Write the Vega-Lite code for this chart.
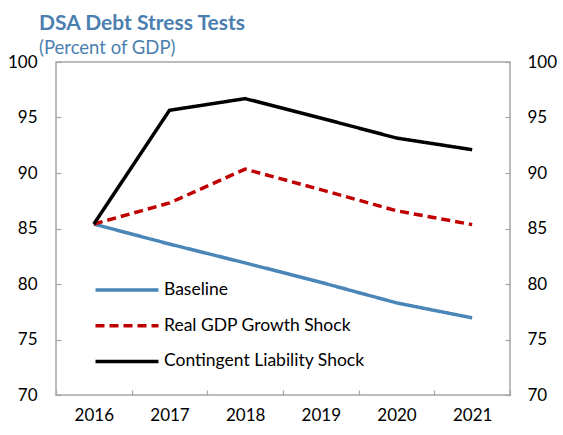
{
  "$schema": "https://vega.github.io/schema/vega-lite/v6.json",
  "autosize": "none",
  "width": 454,
  "height": 333,
  "padding": {"left": 56, "top": 62, "right": 53, "bottom": 40},
  "background": "white",
  "title": {
    "text": "DSA Debt Stress Tests",
    "subtitle": "(Percent of GDP)",
    "anchor": "start",
    "frame": "group",
    "dx": -17,
    "offset": -4,
    "font": "Lato",
    "fontSize": 21,
    "fontWeight": "bold",
    "color": "#4a7fb0",
    "subtitleFont": "Lato",
    "subtitleFontSize": 18.5,
    "subtitleColor": "#4a7fb0",
    "subtitlePadding": 5
  },
  "config": {
    "view": {"stroke": "#a6a6a6", "strokeWidth": 1.5},
    "axis": {
      "labelFont": "Lato",
      "labelFontSize": 17,
      "labelColor": "#000000",
      "domain": false,
      "grid": false,
      "tickColor": "#a6a6a6",
      "tickWidth": 1.2,
      "title": null
    },
    "legend": {
      "labelFont": "Lato",
      "labelFontSize": 17.5,
      "labelColor": "#000000",
      "labelLimit": 400
    }
  },
  "data": {
    "values": [
      {"year": "2016", "series": "Baseline", "value": 85.4},
      {"year": "2017", "series": "Baseline", "value": 83.6},
      {"year": "2018", "series": "Baseline", "value": 81.9},
      {"year": "2019", "series": "Baseline", "value": 80.15},
      {"year": "2020", "series": "Baseline", "value": 78.3},
      {"year": "2021", "series": "Baseline", "value": 76.95},
      {"year": "2016", "series": "Real GDP Growth Shock", "value": 85.4},
      {"year": "2017", "series": "Real GDP Growth Shock", "value": 87.3},
      {"year": "2018", "series": "Real GDP Growth Shock", "value": 90.35},
      {"year": "2019", "series": "Real GDP Growth Shock", "value": 88.5},
      {"year": "2020", "series": "Real GDP Growth Shock", "value": 86.6},
      {"year": "2021", "series": "Real GDP Growth Shock", "value": 85.35},
      {"year": "2016", "series": "Contingent Liability Shock", "value": 85.4},
      {"year": "2017", "series": "Contingent Liability Shock", "value": 95.65},
      {"year": "2018", "series": "Contingent Liability Shock", "value": 96.7},
      {"year": "2019", "series": "Contingent Liability Shock", "value": 94.95},
      {"year": "2020", "series": "Contingent Liability Shock", "value": 93.15},
      {"year": "2021", "series": "Contingent Liability Shock", "value": 92.1}
    ]
  },
  "encoding": {
    "x": {
      "field": "year",
      "type": "ordinal",
      "scale": {"type": "band", "paddingInner": 0, "paddingOuter": 0},
      "axis": {"tickBand": "extent", "tickSize": -5, "labelPadding": 17, "labelAngle": 0}
    }
  },
  "layer": [
    {
      "mark": {"type": "line", "strokeWidth": 3.5, "strokeCap": "butt"},
      "encoding": {
        "y": {
          "field": "value",
          "type": "quantitative",
          "scale": {"domain": [70, 100], "nice": false, "zero": false},
          "axis": {"values": [70, 75, 80, 85, 90, 95, 100], "tickSize": -5, "labelPadding": 24, "orient": "left"}
        },
        "color": {
          "field": "series",
          "type": "nominal",
          "scale": {
            "domain": ["Baseline", "Real GDP Growth Shock", "Contingent Liability Shock"],
            "range": ["#4a86b8", "#c00000", "#000000"]
          },
          "legend": {
            "title": null,
            "orient": "none",
            "legendX": 58.5,
            "legendY": 215.5,
            "symbolType": "M-3,0H3",
            "symbolSize": 441,
            "symbolStrokeWidth": 3.5,
            "rowPadding": 14.7,
            "labelOffset": 24.5
          }
        },
        "strokeDash": {
          "field": "series",
          "type": "nominal",
          "scale": {
            "domain": ["Baseline", "Real GDP Growth Shock", "Contingent Liability Shock"],
            "range": [[1, 0], [9, 5], [1, 0]]
          },
          "legend": null
        }
      }
    },
    {
      "mark": {"type": "point", "opacity": 0},
      "encoding": {
        "y": {
          "field": "value",
          "type": "quantitative",
          "scale": {"domain": [70, 100], "nice": false, "zero": false},
          "axis": {"values": [70, 75, 80, 85, 90, 95, 100], "tickSize": -5, "labelPadding": 22, "orient": "right"}
        }
      }
    }
  ],
  "resolve": {"axis": {"y": "independent"}}
}
